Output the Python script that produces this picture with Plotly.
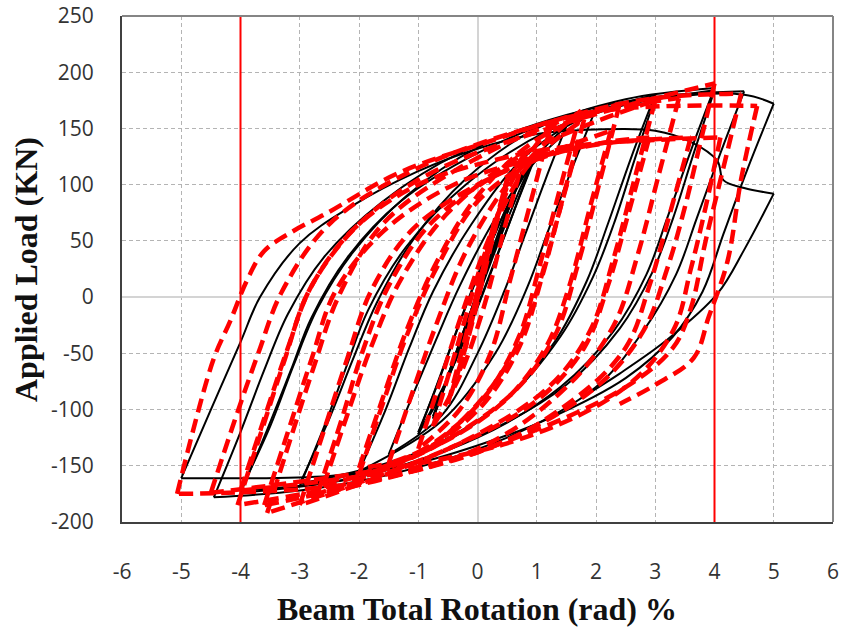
import plotly.graph_objects as go

# ---------------- data ----------------
x_ticks = [-6, -5, -4, -3, -2, -1, 0, 1, 2, 3, 4, 5, 6]
y_ticks = [-200, -150, -100, -50, 0, 50, 100, 150, 200, 250]
limit_lines = [-4, 4]

# Black solid hysteresis: list of branches, each a list of (rotation %, load kN)
black_branches = [
    [(0, 0), (0.375, 55)],
    [(0.375, 55), (0.1, 18), (-0.2, -25), (-0.375, -52)],
    [(-0.375, -52), (-0.1, -14), (0.2, 30), (0.5, 73)],
    [(0.5, 73), (0.2, 32), (-0.2, -25), (-0.5, -70)],
    [(-0.5, -70), (-0.2, -28), (0.2, 32), (0.5, 75), (0.75, 110)],
    [(0.75, 110), (0.45, 68), (0.1, 18), (-0.3, -42), (-0.75, -108)],
    [(-0.75, -108), (-0.4, -58), (0.0, 0), (0.4, 60), (0.75, 112)],
    [(0.75, 112), (0.4, 64), (0.05, 12), (-0.35, -48), (-0.75, -106)],
    [(-0.75, -106), (-0.45, -64), (-0.05, -8), (0.4, 55), (0.75, 100), (1.0, 128)],
    [(1.0, 128), (0.7, 88), (0.35, 40), (0.0, -8), (-0.4, -60), (-0.75, -100), (-1.0, -120)],
    [(-1.0, -120), (-0.65, -74), (-0.3, -22), (0.1, 32), (0.6, 92), (1.0, 130)],
    [(1.0, 130), (0.68, 86), (0.3, 32), (-0.05, -16), (-0.45, -66), (-1.0, -122)],
    [(-1.0, -122), (-0.7, -80), (-0.35, -30), (0.0, 18), (0.5, 80), (1.0, 125), (1.5, 152)],
    [(1.5, 152), (1.15, 105), (0.8, 55), (0.45, 5), (0.0, -50), (-0.6, -105), (-1.5, -140)],
    [(-1.5, -140), (-1.1, -88), (-0.7, -38), (-0.3, 10), (0.3, 70), (1.0, 122), (2.0, 168)],
    [(2.0, 168), (1.6, 115), (1.2, 60), (0.85, 10), (0.3, -50), (-0.6, -110), (-2.0, -155)],
    [(-2.0, -155), (-1.55, -100), (-1.15, -45), (-0.75, 5), (-0.1, 65), (0.8, 125), (1.8, 160), (3.0, 180)],
    [(3.0, 180), (2.6, 125), (2.2, 65), (1.85, 15), (1.3, -40), (0.4, -95), (-1.0, -140), (-3.0, -168)],
    [(-3.0, -168), (-2.55, -110), (-2.2, -60), (-1.85, -12), (-1.2, 45), (-0.2, 100), (1.2, 148), (3.0, 178)],
    [(3.0, 178), (2.65, 122), (2.3, 65), (1.95, 18), (1.4, -35), (0.5, -90), (-1.0, -138), (-3.0, -166)],
    [(-3.0, -166), (-2.5, -108), (-2.1, -55), (-1.7, -5), (-1.1, 50), (-0.2, 105), (1.0, 150), (2.5, 176), (4.0, 186)],
    [(4.0, 186), (3.6, 130), (3.2, 70), (2.85, 20), (2.3, -30), (1.4, -80), (0.0, -125), (-2.0, -160), (-4.0, -174)],
    [(-4.0, -174), (-3.55, -118), (-3.15, -65), (-2.8, -18), (-2.2, 35), (-1.3, 85), (0.0, 128), (1.5, 160), (4.0, 184)],
    [(4.0, 184), (3.65, 128), (3.3, 70), (2.95, 22), (2.4, -28), (1.5, -78), (0.0, -124), (-2.0, -160), (-4.0, -172)],
    [(-4.0, -172), (-3.5, -115), (-3.1, -60), (-2.7, -10), (-2.1, 40), (-1.2, 90), (0.0, 133), (1.5, 162), (3.0, 178), (4.5, 183)],
    [(4.5, 183), (4.1, 128), (3.7, 70), (3.35, 20), (2.8, -30), (2.0, -80), (0.5, -125), (-1.5, -158), (-3.0, -172), (-4.45, -178)],
    [(-4.45, -178), (-4.0, -120), (-3.6, -65), (-3.2, -15), (-2.6, 35), (-1.6, 85), (-0.3, 128), (1.2, 155), (3.0, 176), (4.5, 180), (5.0, 172)],
    [(5.0, 172), (4.55, 113), (4.15, 56), (3.8, 5), (3.3, -35), (2.5, -72), (1.2, -108), (0.0, -132), (-1.2, -150), (-2.5, -159), (-5.0, -161)],
    [(-5.0, -161), (-4.5, -100), (-4.0, -40), (-3.67, 0), (-3.0, 48), (-2.15, 80), (-1.0, 112), (0.0, 132), (1.0, 145), (2.0, 149), (3.0, 148), (3.6, 138), (4.05, 121), (4.15, 104), (4.5, 97), (5.0, 92)],
    [(5.0, 92), (4.5, 42), (4.05, 3), (3.2, -38), (2.4, -68), (1.8, -88)],
]

# Red dashed hysteresis: list of branches
red_branches = [
    [(0, 0), (0.3, 70)],
    [(0.3, 70), (0.0, 5), (-0.3, -65)],
    [(-0.3, -65), (0.05, 10), (0.3, 65), (0.5, 105)],
    [(0.5, 105), (0.2, 40), (-0.15, -35), (-0.5, -95)],
    [(-0.5, -95), (-0.15, -25), (0.25, 55), (0.55, 105), (0.8, 128)],
    [(0.8, 128), (0.45, 60), (0.1, -10), (-0.3, -70), (-0.75, -115)],
    [(-0.75, -115), (-0.35, -45), (0.1, 35), (0.6, 105), (1.23, 151)],
    [(1.23, 151), (0.9, 85), (0.55, 15), (0.22, -50), (-0.3, -100), (-1.0, -135)],
    [(-1.0, -135), (-0.6, -70), (-0.2, -5), (0.3, 65), (0.9, 120), (1.8, 158)],
    [(1.8, 158), (1.45, 90), (1.1, 20), (0.7, -45), (0.1, -95), (-0.7, -130), (-1.5, -148)],
    [(-1.5, -148), (-1.1, -85), (-0.7, -25), (-0.2, 40), (0.5, 100), (1.2, 140), (1.75, 166)],
    [(1.75, 166), (1.4, 98), (1.05, 28), (0.7, -35), (0.1, -90), (-0.9, -135), (-2.0, -158)],
    [(-2.0, -158), (-1.6, -95), (-1.2, -35), (-0.7, 25), (0.0, 85), (0.9, 120), (1.7, 137)],
    [(1.7, 137), (1.35, 70), (1.0, 5), (0.6, -50), (0.0, -95), (-1.0, -140), (-2.0, -152)],
    [(-2.0, -152), (-1.6, -90), (-1.2, -30), (-0.7, 30), (0.0, 90), (1.0, 140), (2.4, 172)],
    [(2.4, 172), (2.05, 100), (1.7, 30), (1.3, -35), (0.6, -85), (-0.8, -135), (-2.7, -175)],
    [(-2.7, -175), (-2.3, -110), (-1.95, -50), (-1.5, 10), (-0.8, 65), (0.3, 108), (1.4, 132), (2.25, 148)],
    [(2.25, 148), (1.9, 80), (1.55, 10), (1.15, -45), (0.4, -95), (-1.0, -140), (-2.6, -168)],
    [(-2.6, -168), (-2.2, -105), (-1.8, -45), (-1.3, 15), (-0.5, 75), (0.8, 128), (3.0, 175)],
    [(3.0, 175), (2.65, 105), (2.3, 35), (1.9, -30), (1.2, -80), (-0.3, -130), (-3.0, -185)],
    [(-3.0, -185), (-2.6, -120), (-2.2, -55), (-1.8, 5), (-1.1, 60), (0.0, 100), (1.2, 126), (2.2, 138), (2.9, 142)],
    [(2.9, 142), (2.55, 75), (2.2, 10), (1.8, -45), (1.0, -92), (-0.5, -135), (-3.55, -192)],
    [(-3.55, -192), (-3.15, -125), (-2.75, -60), (-2.35, 0), (-1.6, 65), (-0.3, 115), (1.5, 158), (3.4, 177)],
    [(3.4, 177), (3.05, 107), (2.7, 37), (2.3, -25), (1.5, -80), (0.0, -135), (-3.6, -185)],
    [(-3.6, -185), (-3.2, -120), (-2.8, -55), (-2.4, 5), (-1.6, 58), (-0.4, 100), (1.0, 124), (2.2, 137), (3.6, 142)],
    [(3.6, 142), (3.25, 75), (2.9, 10), (2.5, -45), (1.6, -92), (0.0, -138), (-4.0, -172)],
    [(-4.0, -172), (-3.6, -108), (-3.2, -45), (-2.8, 10), (-2.0, 65), (-0.8, 110), (1.5, 155), (4.0, 190)],
    [(4.0, 190), (3.75, 135), (3.5, 80), (3.2, 25), (2.8, -30), (2.0, -80), (0.0, -138), (-4.05, -185)],
    [(-4.05, -185), (-3.65, -120), (-3.25, -55), (-2.85, 5), (-2.1, 60), (-1.0, 100), (0.3, 122), (1.7, 135), (4.1, 142)],
    [(4.1, 142), (3.85, 80), (3.6, 25), (3.3, -30), (2.5, -80), (0.5, -130), (-4.5, -174)],
    [(-4.5, -174), (-4.1, -110), (-3.7, -50), (-3.3, 5), (-2.5, 65), (-1.0, 115), (1.5, 160), (3.0, 177), (4.45, 181)],
    [(4.45, 181), (4.15, 115), (3.85, 50), (3.6, -10), (3.3, -45), (2.5, -80), (0.5, -128), (-2.0, -165), (-5.07, -175)],
    [(-5.07, -175), (-4.46, -56), (-4.17, -21), (-3.89, 15), (-3.6, 41), (-3.1, 59), (-2.53, 75), (-1.35, 110), (0.0, 135), (2.0, 165), (4.72, 170)],
    [(4.72, 170), (4.45, 105), (4.22, 32), (3.9, -18), (3.65, -54), (3.0, -78), (2.4, -95)],
]


def flatten(branches):
    xs, ys = [], []
    for br in branches:
        for px, py in br:
            xs.append(px)
            ys.append(py)
        xs.append(None)
        ys.append(None)
    return xs, ys


bx, by = flatten(black_branches)
rx, ry = flatten(red_branches)

fig = go.Figure()
fig.add_trace(go.Scatter(x=bx, y=by, mode="lines", connectgaps=False,
                         line=dict(color="black", width=2, shape="spline", smoothing=1.0),
                         hoverinfo="skip"))
fig.add_trace(go.Scatter(x=rx, y=ry, mode="lines", connectgaps=False,
                         line=dict(color="#ff0000", width=4.5, dash="14px,7px", shape="spline", smoothing=1.0),
                         hoverinfo="skip"))

for lx in limit_lines:
    fig.add_shape(type="line", xref="x", yref="paper", x0=lx, x1=lx, y0=0, y1=1,
                  line=dict(color="#ff0000", width=2), layer="above")

# top / right frame in lighter grey
fig.add_shape(type="line", xref="paper", yref="paper", x0=0, x1=1, y0=1, y1=1,
              line=dict(color="#858585", width=2), layer="above")
fig.add_shape(type="line", xref="paper", yref="paper", x0=1, x1=1, y0=0, y1=1,
              line=dict(color="#858585", width=2), layer="above")

tick_font = dict(family="Open Sans", size=21, color="#333333")

fig.update_xaxes(range=[-6, 6], tickvals=x_ticks, ticktext=[str(v) for v in x_ticks],
                 showline=True, linecolor="#404040", linewidth=2,
                 ticks="outside", ticklen=30, tickcolor="rgba(0,0,0,0)",
                 tickfont=tick_font, automargin=False, ticklabeloverflow="allow",
                 showgrid=True, gridcolor="#b4b4b4", gridwidth=1, griddash="4px,3px",
                 zeroline=True, zerolinecolor="#d4d4d4", zerolinewidth=2)
fig.update_yaxes(range=[-200, 250], tickvals=y_ticks, ticktext=[str(v) for v in y_ticks],
                 showline=True, linecolor="#404040", linewidth=2,
                 ticks="outside", ticklen=22, tickcolor="rgba(0,0,0,0)",
                 tickfont=tick_font, automargin=False, ticklabeloverflow="allow",
                 showgrid=True, gridcolor="#b4b4b4", gridwidth=1, griddash="4px,3px",
                 zeroline=True, zerolinecolor="#d4d4d4", zerolinewidth=2)

title_font = dict(family="Liberation Serif", size=32, color="#111111")
fig.add_annotation(text="<b>Beam Total Rotation (rad) %</b>", xref="paper", yref="paper",
                   x=0.4986, y=-0.172, xanchor="center", yanchor="middle",
                   showarrow=False, font=title_font)
fig.add_annotation(text="<b>Applied Load (KN)</b>", xref="paper", yref="paper",
                   x=-0.135, y=0.498, xanchor="center", yanchor="middle", textangle=-90,
                   showarrow=False, font=title_font)

fig.update_layout(width=842, height=628, margin=dict(l=122, r=9, t=16, b=106),
                  plot_bgcolor="white", paper_bgcolor="white", showlegend=False)

# remove the default 8 px page margin so the 842x628 figure fills the window exactly
fig.write_html("out.html", config={"displayModeBar": False},
               post_script="document.body.style.margin='0';document.body.style.overflow='hidden';")
